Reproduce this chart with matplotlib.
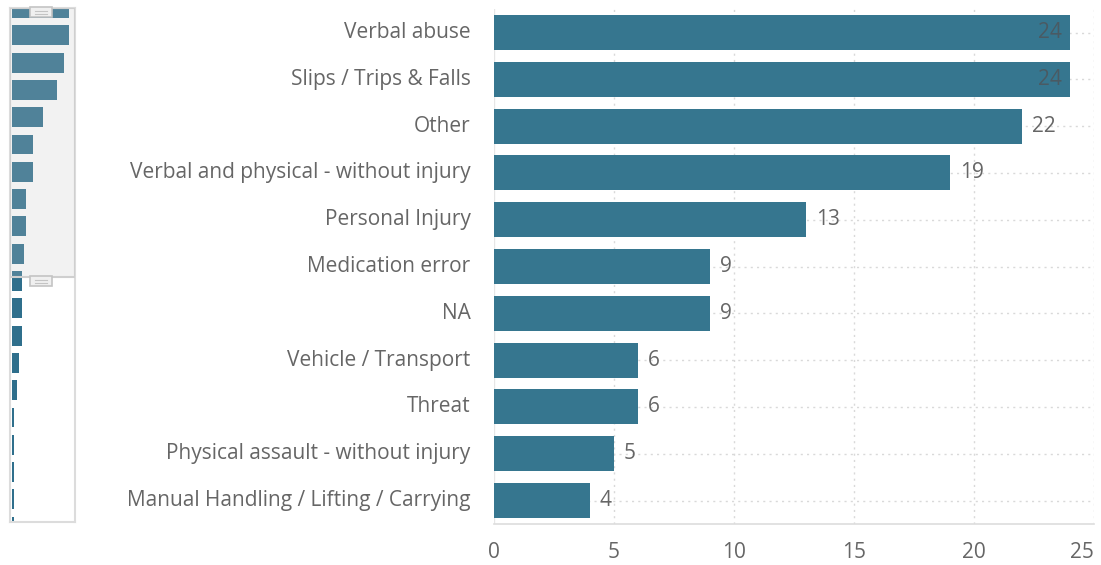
import matplotlib
matplotlib.use("Agg")
import matplotlib.pyplot as plt
from matplotlib.patches import Rectangle
import matplotlib.transforms as mtransforms

categories = ["Verbal abuse", "Slips / Trips & Falls", "Other",
              "Verbal and physical - without injury", "Personal Injury",
              "Medication error", "NA", "Vehicle / Transport", "Threat",
              "Physical assault - without injury",
              "Manual Handling / Lifting / Carrying"]
values = [24, 24, 22, 19, 13, 9, 9, 6, 6, 5, 4]
# remaining categories only visible in the zoom navigator (labels not shown)
hidden_values = [4, 4, 3, 2, 1, 1, 1, 1, 1]
x_ticks = [0, 5, 10, 15, 20, 25]

W, H = 1101, 565
fig = plt.figure(figsize=(W / 100, H / 100), dpi=100)
plt.rcParams['font.family'] = ['Open Sans', 'DejaVu Sans']

BAR = "#36768f"
TXT = "#666666"
GRID = "#d9d9d9"
FS = 15

def fa(x0, y0, x1, y1):
    return [x0 / W, 1 - y1 / H, (x1 - x0) / W, (y1 - y0) / H]

# ---------------- main chart ----------------
ax = fig.add_axes(fa(494, 9.1, 1094, 523.9))
n = len(categories)
ypos = list(range(n))
ax.barh(ypos, values, height=0.75, color=BAR, zorder=3)
ax.set_ylim(n - 0.5, -0.5)
ax.set_xlim(0, 25)
ax.set_yticks(ypos)
ax.set_yticklabels(categories, fontsize=FS, color=TXT, va="center")
ax.set_xticks(x_ticks)
ax.set_xticklabels([str(t) for t in x_ticks], fontsize=FS, color=TXT)
ax.tick_params(axis='y', length=0, pad=17)
ax.tick_params(axis='x', length=0, pad=13)
lbls = ax.get_xticklabels()
lbls[-1].set_transform(lbls[-1].get_transform() +
                       mtransforms.ScaledTranslation(-12 / 100, 0, fig.dpi_scale_trans))
for t in x_ticks[1:]:
    ax.axvline(t, color=GRID, linestyle=(0, (1.5, 3)), linewidth=1, zorder=1)
for y in ypos:
    ax.axhline(y, color=GRID, linestyle=(0, (1.5, 3)), linewidth=1, zorder=1)
for s in ["top", "right", "left"]:
    ax.spines[s].set_visible(False)
ax.spines["bottom"].set_color("#dddddd")
ax.spines["bottom"].set_linewidth(1.2)
ax.axvline(0, color="#e6e6e6", linewidth=1, zorder=2)

for y, v in zip(ypos, values):
    if v >= 24:
        ax.text(v - 0.35, y, str(v), ha="right", va="center",
                fontsize=FS, color="#4a5a63", zorder=4)
    else:
        ax.text(v + 0.4, y, str(v), ha="left", va="center",
                fontsize=FS, color=TXT, zorder=4)

# ---------------- zoom navigator ----------------
nav_vals = values + hidden_values
nav = fig.add_axes(fa(10, 8, 75, 522))
m = len(nav_vals)
step = 27.3
top_px, bot_px = 8, 522
nav.set_ylim((bot_px - top_px) / step, 0)
nav.set_xlim(-2 / 2.375, 63 / 2.375)
nav.barh(range(m), nav_vals, height=0.73, color="#2f6f8c", zorder=2)
nav.set_xticks([])
nav.set_yticks([])
for s in nav.spines.values():
    s.set_color("#dcdcdc")
    s.set_linewidth(1.5)

# selected window overlay
win_bottom = (277 - top_px) / step
nav.add_patch(Rectangle((-2 / 2.375, 0), 65 / 2.375, win_bottom,
                        facecolor="#c8c8c8", alpha=0.22, edgecolor="none",
                        zorder=3))
nav.add_patch(Rectangle((-2 / 2.375, 0), 65 / 2.375, win_bottom,
                        facecolor="none", edgecolor="#cfcfcf", linewidth=1.5,
                        zorder=4))

# handles
def handle(ycenter_px):
    hx0, hx1 = 30, 52
    hy0, hy1 = ycenter_px - 5, ycenter_px + 5
    fig.patches.append(Rectangle((hx0 / W, 1 - hy1 / H), (hx1 - hx0) / W,
                                 (hy1 - hy0) / H, transform=fig.transFigure,
                                 facecolor="#f0f0f0", edgecolor="#c4c4c4",
                                 linewidth=1.2, zorder=10))
    for dy in (-1.5, 1.5):
        fig.lines.append(plt.Line2D([(hx0 + 5) / W, (hx1 - 5) / W],
                                    [1 - (ycenter_px + dy) / H] * 2,
                                    transform=fig.transFigure,
                                    color="#c4c4c4", linewidth=0.8, zorder=11))

handle(12)
handle(281)

fig.savefig("out.png", dpi=100, facecolor="white")
